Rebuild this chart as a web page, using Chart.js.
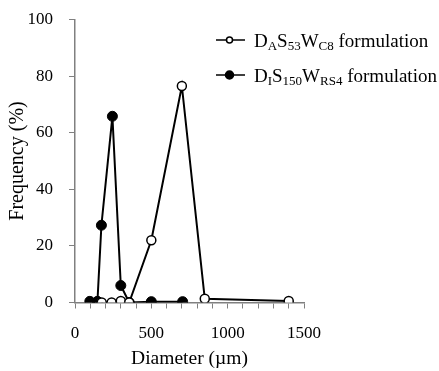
<!DOCTYPE html>
<html>
<head>
<meta charset="utf-8">
<script src="https://cdn.jsdelivr.net/npm/chart.js@4"></script>
<style>
  html, body { margin: 0; padding: 0; background: #fff; }
  #c { display: block; }
</style>
</head>
<body>
<canvas id="c" width="439" height="371"></canvas>
<script>
// diameters (um) and frequencies (%)
let diamA = [175, 240, 300, 355, 500, 700, 850, 1400];
let freqA = [0, 0, 0.5, 0, 22, 76.5, 1.3, 0.5];
let diamB = [97, 147, 173, 245, 300, 355, 500, 705];
let freqB = [0.4, 0.4, 27.3, 65.8, 6, 0, 0.3, 0.3];

let yTicks = [0, 20, 40, 60, 80, 100];
let xLabels = [0, 500, 1000, 1500];

const serif = "'Liberation Serif', 'Times New Roman', serif";

function pts(xs, ys) {
    return xs.map((x, i) => ({ x: x, y: ys[i] }));
}

// legend with subscripts, drawn by hand
const legendParts = [
    { filled: false, parts: [['D', 0], ['A', 1], ['S', 0], ['53', 1], ['W', 0], ['C8', 1], [' formulation', 0]] },
    { filled: true, parts: [['D', 0], ['I', 1], ['S', 0], ['150', 1], ['W', 0], ['RS4', 1], [' formulation', 0]] }
];

const subLegend = {
    id: 'subLegend',
    afterDraw(chart) {
        let c = chart.ctx;
        c.save();
        legendParts.forEach((item, i) => {
            let y = 40 + i * 35;
            c.strokeStyle = '#000';
            c.lineWidth = 1.5;
            c.beginPath();
            c.moveTo(216, y);
            c.lineTo(245, y);
            c.stroke();
            c.beginPath();
            c.arc(229.5, y, item.filled ? 4 : 3, 0, Math.PI * 2);
            c.fillStyle = item.filled ? '#000' : '#fff';
            c.fill();
            c.stroke();
            let x = 254;
            c.fillStyle = '#000';
            c.textBaseline = 'alphabetic';
            item.parts.forEach(p => {
                c.font = (p[1] ? '13px ' : '19px ') + serif;
                c.fillText(p[0], x, y + 7 + (p[1] ? 3 : 0));
                x += c.measureText(p[0]).width;
            });
        });
        c.restore();
    }
};

let ctx = document.getElementById('c').getContext('2d');
let chart = new Chart(ctx, {
    type: 'line',
    data: {
        datasets: [{
            label: 'DAS53WC8 formulation',
            data: pts(diamA, freqA),
            borderColor: '#000',
            borderWidth: 2,
            pointRadius: 4.5,
            pointBorderWidth: 1.5,
            pointBackgroundColor: '#fff',
            pointBorderColor: '#000',
            fill: false,
            tension: 0
        }, {
            label: 'DIS150WRS4 formulation',
            data: pts(diamB, freqB),
            borderColor: '#000',
            borderWidth: 2,
            pointRadius: 5,
            pointBorderWidth: 1,
            pointBackgroundColor: '#000',
            pointBorderColor: '#000',
            fill: false,
            tension: 0
        }]
    },
    options: {
        responsive: false,
        animation: false,
        layout: { padding: { top: 19.5, right: 135, left: 0, bottom: 0 } },
        plugins: {
            legend: { display: false },
            tooltip: { enabled: false }
        },
        scales: {
            x: {
                type: 'linear',
                min: 0,
                max: 1500,
                afterFit: axis => { axis.height = 68.5; },
                border: { color: '#808080', width: 1.5 },
                grid: { drawOnChartArea: false, drawTicks: true, tickLength: 6, color: '#808080' },
                ticks: {
                    stepSize: 100,
                    autoSkip: false,
                    maxRotation: 0,
                    padding: 15,
                    color: '#000',
                    font: { family: serif, size: 17 },
                    callback: v => xLabels.includes(v) ? String(v) : ''
                },
                title: {
                    display: true,
                    text: 'Diameter (\u00b5m)',
                    color: '#000',
                    font: { family: serif, size: 19.5 },
                    padding: { top: 0, bottom: 0 }
                }
            },
            y: {
                min: 0,
                max: 100,
                afterFit: axis => {
                    axis.width = 75;
                    axis.paddingTop = 0;
                    axis.paddingBottom = 0;
                },
                border: { color: '#808080', width: 1.5 },
                grid: { drawOnChartArea: false, drawTicks: true, tickLength: 6, color: '#808080' },
                afterBuildTicks: axis => { axis.ticks = yTicks.map(v => ({ value: v })); },
                ticks: {
                    padding: 16,
                    color: '#000',
                    font: { family: serif, size: 17 }
                },
                title: {
                    display: true,
                    text: 'Frequency (%)',
                    color: '#000',
                    font: { family: serif, size: 20 },
                    padding: { top: 6, bottom: 0 }
                }
            }
        }
    },
    plugins: [subLegend]
});
</script>
</body>
</html>
